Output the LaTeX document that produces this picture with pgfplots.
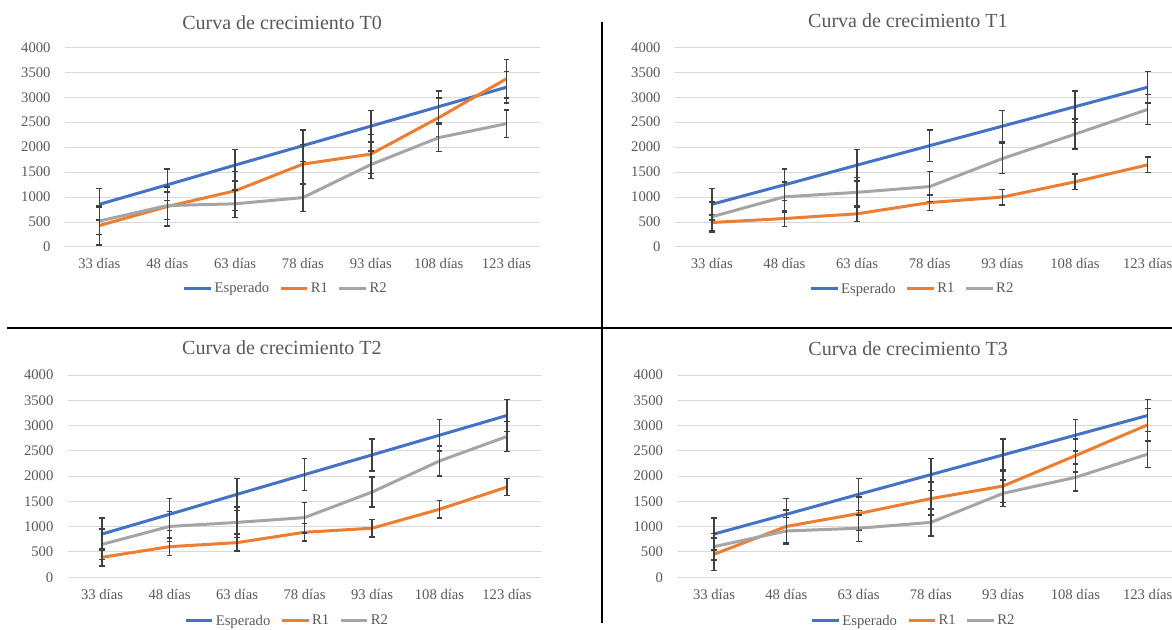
\documentclass[border=0pt]{standalone}
\usepackage{fontspec}
\setmainfont{Liberation Serif}
\usepackage{pgfplots}
\pgfplotsset{compat=1.18}
\definecolor{cEsp}{HTML}{4472C4}
\definecolor{cR1}{HTML}{ED7D31}
\definecolor{cR2}{HTML}{A5A5A5}
\definecolor{errc}{HTML}{404040}
\definecolor{txt}{HTML}{595959}
\definecolor{gridc}{HTML}{D9D9D9}
\pgfplotsset{
  panel/.style={
    scale only axis, clip=false,
    xmin=-0.5, xmax=6.5, ymin=0, ymax=4000,
    xtick={0,1,2,3,4,5,6},
    xticklabels={33 días,48 días,63 días,78 días,93 días,108 días,123 días},
    ytick={0,500,...,4000},
    ymajorgrids, grid style={color=gridc, line width=0.75pt},
    axis line style={draw=none}, tick style={draw=none},
    /pgf/number format/assume math mode=true,
    /pgf/number format/1000 sep={},
    scaled y ticks=false,
    ticklabel style={font=\fontsize{11}{13}\selectfont, text=txt},
    yticklabel style={anchor=east, inner sep=0pt, xshift=-11pt},
    xticklabel style={anchor=center, inner sep=0pt},
    title style={font=\fontsize{15}{18}\selectfont, text=txt, anchor=center, inner sep=0pt},
    legend columns=3,
    legend style={draw=none, fill=none, anchor=center, inner sep=0pt,
      font=\fontsize{11}{13}\selectfont, text=txt,
      nodes={inner xsep=1.5pt, inner ysep=0pt},
      /tikz/every even column/.append style={column sep=6pt}},
    legend image code/.code={\draw[#1] (0pt,0pt) -- (20pt,0pt);},
  },
  ser/.style={line width=2.25pt, mark=none, #1,
    error bars/y dir=both,
    error bars/error bar style={line width=1.1pt, color=errc},
    error bars/error mark options={rotate=90, mark size=2.2pt, line width=1.1pt, color=errc}},
}
\begin{document}
\begin{tikzpicture}
\useasboundingbox (0,0) rectangle (879pt,471.75pt);
\clip (0,0) rectangle (879pt,471.75pt);

% T0
\begin{axis}[panel, at={(49.1pt,286.5pt)}, width=356.25pt, height=149.8pt,
  title={Curva de crecimiento T0}, title style={at={(0.456,1)}, yshift=12.75pt},
  xticklabel style={yshift=-12pt},
  legend style={at={(0.464,-0.209)}}]
\addplot[ser=cEsp, error bars/y fixed=315] coordinates {(0,855) (1,1245) (2,1640) (3,2030) (4,2420) (5,2810) (6,3200)};
\addplot[ser=cR1, error bars/y fixed=390] coordinates {(0,430) (1,810) (2,1125) (3,1660) (4,1860) (5,2590) (6,3370)};
\addplot[ser=cR2, error bars/y fixed=275] coordinates {(0,520) (1,830) (2,865) (3,990) (4,1650) (5,2190) (6,2470)};
\legend{Esperado,R1,R2}
\end{axis}

% T1
\begin{axis}[panel, at={(506.6pt,286.5pt)}, width=381.4pt, height=149.8pt,
  title={Curva de crecimiento T1}, title style={at={(0.457,1)}, yshift=14pt},
  xticklabel style={yshift=-12pt},
  legend style={at={(0.466,-0.21)}}]
\addplot[ser=cEsp, error bars/y fixed=315] coordinates {(0,855) (1,1245) (2,1640) (3,2030) (4,2420) (5,2810) (6,3200)};
\addplot[ser=cR1, error bars/y fixed=155] coordinates {(0,490) (1,570) (2,665) (3,890) (4,1000) (5,1305) (6,1645)};
\addplot[ser=cR2, error bars/y fixed=300] coordinates {(0,605) (1,1005) (2,1095) (3,1210) (4,1770) (5,2260) (6,2755)};
\legend{Esperado,R1,R2}
\end{axis}

% T2
\begin{axis}[panel, at={(51.2pt,38.8pt)}, width=354.4pt, height=151.7pt,
  title={Curva de crecimiento T2}, title style={at={(0.452,1)}, yshift=14.25pt},
  xticklabel style={yshift=-13pt},
  legend style={at={(0.463,-0.216)}}]
\addplot[ser=cEsp, error bars/y fixed=315] coordinates {(0,855) (1,1245) (2,1640) (3,2030) (4,2420) (5,2810) (6,3200)};
\addplot[ser=cR1, error bars/y fixed=170] coordinates {(0,395) (1,605) (2,685) (3,890) (4,970) (5,1345) (6,1785)};
\addplot[ser=cR2, error bars/y fixed=300] coordinates {(0,650) (1,1005) (2,1085) (3,1180) (4,1685) (5,2300) (6,2785)};
\legend{Esperado,R1,R2}
\end{axis}

% T3
\begin{axis}[panel, at={(508.4pt,38.8pt)}, width=379.5pt, height=151.7pt,
  title={Curva de crecimiento T3}, title style={at={(0.455,1)}, yshift=14pt},
  xticklabel style={yshift=-13pt},
  legend style={at={(0.466,-0.216)}}]
\addplot[ser=cEsp, error bars/y fixed=315] coordinates {(0,855) (1,1245) (2,1640) (3,2030) (4,2420) (5,2810) (6,3200)};
\addplot[ser=cR1, error bars/y fixed=325] coordinates {(0,455) (1,1005) (2,1260) (3,1555) (4,1805) (5,2405) (6,3015)};
\addplot[ser=cR2, error bars/y fixed=265] coordinates {(0,605) (1,915) (2,970) (3,1085) (4,1660) (5,1975) (6,2435)};
\legend{Esperado,R1,R2}
\end{axis}

% dividers
\draw[black, line width=1.5pt] (451.3pt,455.25pt) -- (451.3pt,4.5pt);
\draw[black, line width=1.5pt] (5.25pt,225.5pt) -- (879pt,225.5pt);
\end{tikzpicture}
\end{document}
